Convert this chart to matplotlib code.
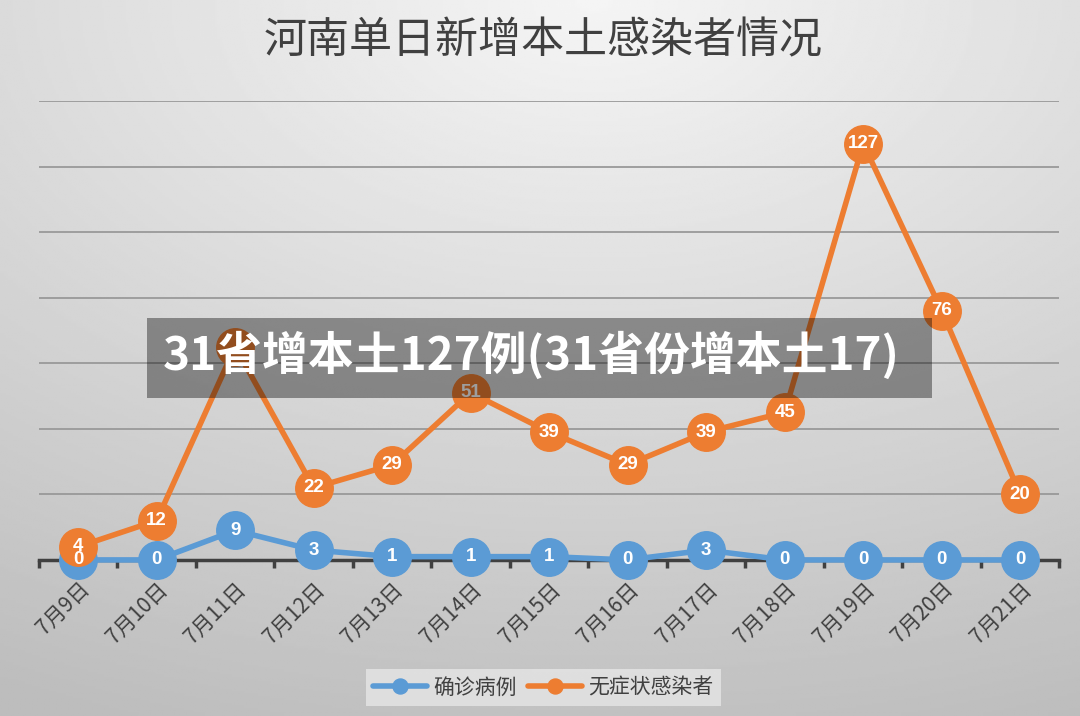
import matplotlib
matplotlib.use('Agg')
import matplotlib.pyplot as plt
import numpy as np
from matplotlib.patches import Rectangle

plt.rcParams['font.family'] = ['Noto Sans CJK SC', 'DejaVu Sans']

# data
dates = ['7月9日', '7月10日', '7月11日', '7月12日', '7月13日', '7月14日', '7月15日',
         '7月16日', '7月17日', '7月18日', '7月19日', '7月20日', '7月21日']
confirmed = [0, 0, 9, 3, 1, 1, 1, 0, 3, 0, 0, 0, 0]
asymptomatic = [4, 12, 65, 22, 29, 51, 39, 29, 39, 45, 127, 76, 20]
# the 7/11 label sits under the banner text and cannot be seen
hidden_orange = [2]

title = '河南单日新增本土感染者情况'
banner = '31省增本土127例(31省份增本土17)'
series_names = ['确诊病例', '无症状感染者']

blue = '#5B9BD5'
orange = '#ED7D31'

fig = plt.figure(figsize=(10.8, 7.16), dpi=100)

# gray radial background
bg = fig.add_axes([0, 0, 1, 1], zorder=-10)
yy, xx = np.mgrid[0:1:300j, 0:1:450j]
r = np.sqrt(((xx - 0.55) * 1.1) ** 2 + ((yy - 0.0) * 1.2) ** 2)
shade = 0.96 - 0.22 * np.clip(r, 0, 1.3) / 1.3
bg.imshow(shade, cmap='gray', vmin=0, vmax=1, aspect='auto', extent=[0, 1, 0, 1])
bg.axis('off')

ax = fig.add_axes([0.036, 0.218, 0.945, 0.641])
ax.patch.set_alpha(0)
x = np.arange(len(dates))

ax.plot(x, confirmed, color=blue, lw=4, marker='o', ms=27, zorder=3,
        solid_capstyle='round', clip_on=False, label=series_names[0])
ax.plot(x, asymptomatic, color=orange, lw=4, marker='o', ms=27, zorder=4,
        solid_capstyle='round', clip_on=False, label=series_names[1])

for xi, v in zip(x, confirmed):
    ax.text(xi, v, str(v), color='white', ha='center', va='center',
            fontsize=13.5, fontweight='bold', family='Liberation Sans', zorder=6)
for xi, v in zip(x, asymptomatic):
    if xi in hidden_orange:
        continue
    ax.text(xi, v, str(v), color='white', ha='center', va='center',
            fontsize=13.5, fontweight='bold', family='Liberation Sans', zorder=6)

ax.set_xlim(-0.5, len(dates) - 0.5)
ax.set_ylim(0, 140)
ax.set_yticks(np.arange(20, 141, 20))
ax.yaxis.grid(True, color='#999999', lw=1.3)
ax.tick_params(axis='y', left=False, labelleft=False)
for s in ['top', 'right', 'left']:
    ax.spines[s].set_visible(False)
ax.spines['bottom'].set_color('#404040')
ax.spines['bottom'].set_linewidth(2.5)
ax.spines['bottom'].set_zorder(2)

ax.set_xticks(np.arange(-0.5, len(dates), 1.0))
ax.set_xticklabels([])
ax.tick_params(axis='x', length=6, width=2.5, color='#404040', direction='out')
ax.set_xticks(x, minor=True)
ax.set_xticklabels(dates, minor=True, rotation=45, ha='right', va='top',
                   rotation_mode='anchor', fontsize=15, color='#404040')
ax.tick_params(axis='x', which='minor', length=0, pad=13)

fig.text(0.503, 0.942, title, ha='center', va='center', fontsize=31, color='#404040')

leg = fig.legend(loc='center', bbox_to_anchor=(0.503, 0.04), ncol=2, frameon=True,
                 fontsize=15, markerscale=0.4, handlelength=2.6, handletextpad=0.3,
                 columnspacing=0.5, borderpad=0.35, fancybox=False)
leg.get_frame().set_facecolor('#e6e6e6')
leg.get_frame().set_edgecolor('none')
for t in leg.get_texts():
    t.set_color('#404040')

# semi-transparent banner over the chart
fig.patches.append(Rectangle((147 / 1080, 1 - 398 / 716), 785 / 1080, 80 / 716,
                             transform=fig.transFigure, facecolor='black', alpha=0.38,
                             edgecolor='none', zorder=20))
fig.text(531 / 1080, 1 - 356 / 716, banner, ha='center', va='center', fontsize=33,
         fontweight='heavy', color='white', zorder=21)

fig.savefig('out.png', dpi=100)
